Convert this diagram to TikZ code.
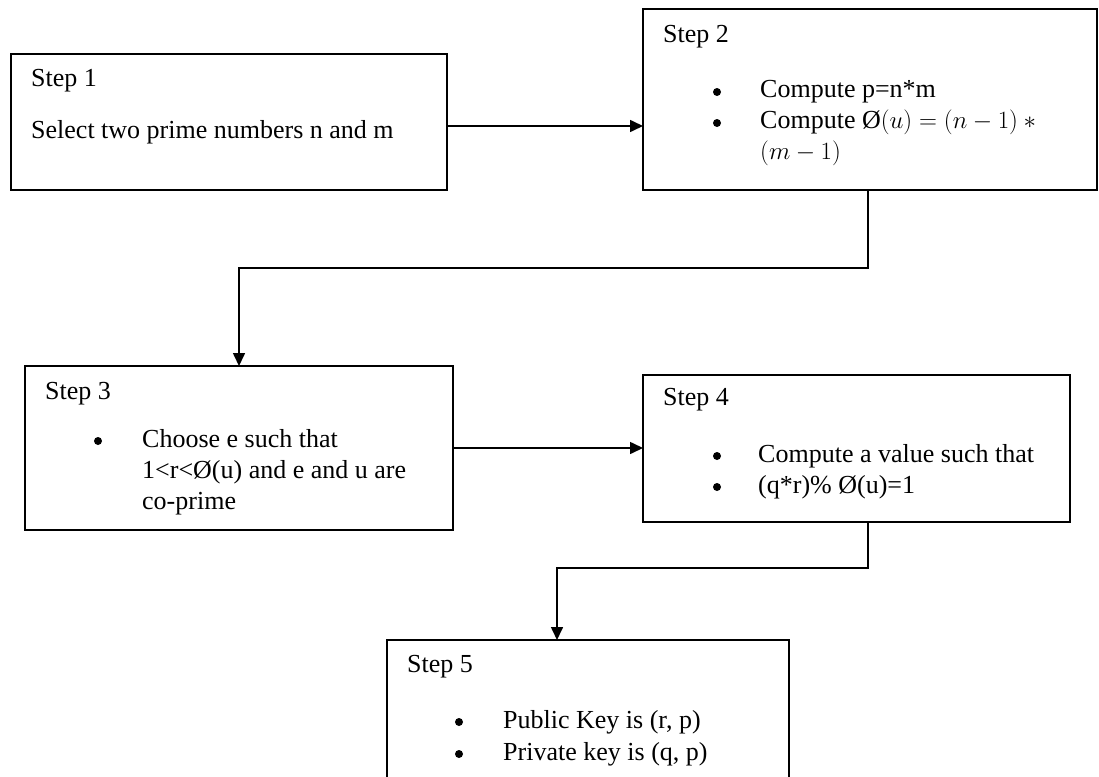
\documentclass[tikz,border=0pt]{standalone}
\usepackage{fontspec}
\setmainfont{Liberation Serif}
\usetikzlibrary{arrows.meta}
\begin{document}
\begin{tikzpicture}[x=1pt,y=-1pt,
  box/.style={draw, line width=1.7pt, inner sep=0pt, outer sep=0pt, anchor=north west},
  txt/.style={anchor=base west, inner sep=0pt, font=\fontsize{26}{31}\selectfont},
  dot/.style={circle, fill, inner sep=0pt, minimum size=8pt},
  conn/.style={line width=1.6pt},
  arr/.style={conn, -{Triangle[length=13pt,width=12pt]}}]
\useasboundingbox (0,0) rectangle (1099,776);
\clip (0,0) rectangle (1099,776);
\fill[white] (0,0) rectangle (1099,776);
% boxes
\node[box, minimum width=436.3pt, minimum height=136pt] (s1) at (10.7,54) {};
\node[box, minimum width=454pt, minimum height=181pt] (s2) at (643,9) {};
\node[box, minimum width=428pt, minimum height=164pt] (s3) at (25,366) {};
\node[box, minimum width=427pt, minimum height=147pt] (s4) at (643,375) {};
\node[box, minimum width=402pt, minimum height=160pt] (s5) at (387,640) {};
% connectors
\draw[arr] ([yshift=-4pt]s1.east) -- ([yshift=-4pt]s1.east -| s2.west);
\draw[arr] ([xshift=-2pt]s2.south) -- ++(0,78) -| (s3.north);
\draw[arr] (s3.east) -- (s3.east -| s4.west);
\draw[arr] ([xshift=11.5pt]s4.south) -- ++(0,46) -| ([xshift=-31pt]s5.north);
% texts step 1
\node[txt] (t1a) at (31,86) {Step 1};
\node[txt] (t1b) at (31,138) {Select two prime numbers n and m};
% step 2
\node[txt] (t2a) at (663,42) {Step 2};
\node[dot] (b2a) at (717,92) {};
\node[txt] (t2b) at (760,97) {Compute p=n*m};
\node[dot] (b2b) at (717,123) {};
\node[txt] (t2c) at (760,128) {Compute Ø$(u) = (n-1) \ast{}$};
\node[txt] (t2d) at (760,159) {$(m-1)$};
% step 3
\node[txt] (t3a) at (45,399) {Step 3};
\node[dot] (b3) at (98,441) {};
\node[txt] (t3b) at (142,447) {Choose e such that};
\node[txt] (t3c) at (142,478) {1<r<Ø(u) and e and u are};
\node[txt] (t3d) at (142,509) {co-prime};
% step 4
\node[txt] (t4a) at (663,405) {Step 4};
\node[dot] (b4a) at (717,456) {};
\node[txt] (t4b) at (758,462) {Compute a value such that};
\node[dot] (b4b) at (717,487) {};
\node[txt] (t4c) at (758,493) {(q*r)\% Ø(u)=1};
% step 5
\node[txt] (t5a) at (407,672) {Step 5};
\node[dot] (b5a) at (459,722) {};
\node[txt] (t5b) at (503,728) {Public Key is (r, p)};
\node[dot] (b5b) at (459,754) {};
\node[txt] (t5c) at (503,760) {Private key is (q, p)};
\end{tikzpicture}
\end{document}
